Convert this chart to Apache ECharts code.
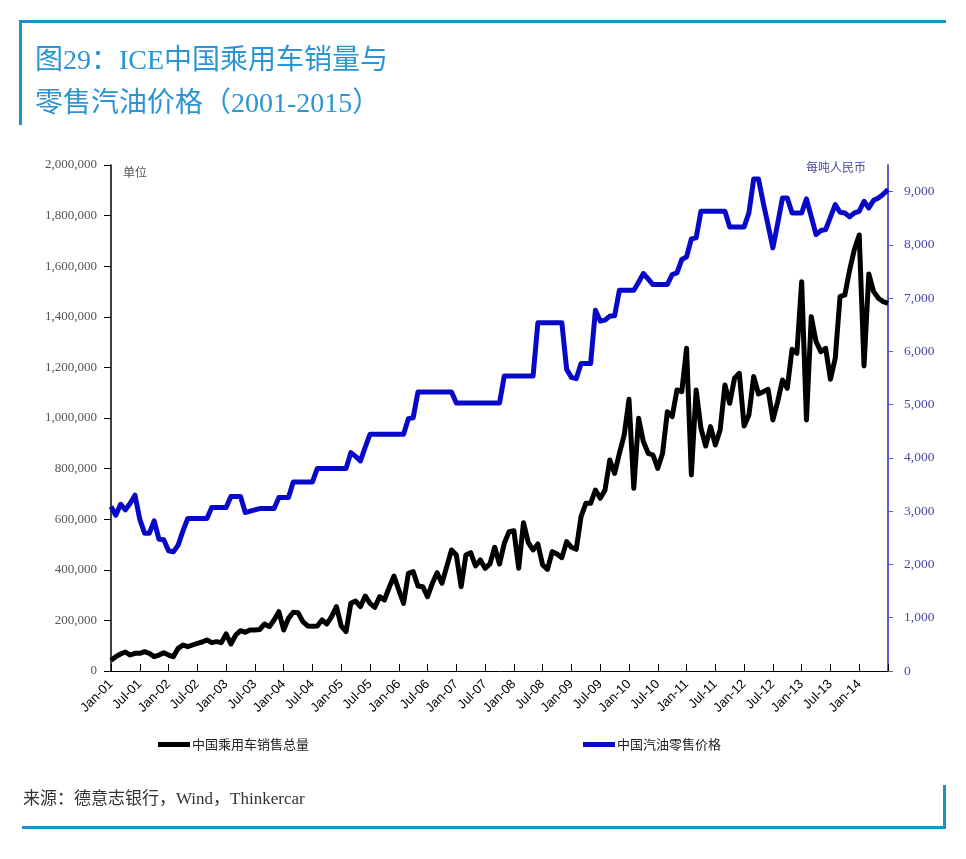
<!DOCTYPE html>
<html>
<head>
<meta charset="utf-8">
<script src="https://cdn.jsdelivr.net/npm/echarts@6/dist/echarts.min.js"></script>
<style>
html,body{margin:0;padding:0;background:#fff;}
#c{width:966px;height:859px;}
</style>
</head>
<body>
<div id="c"></div>
<script>
// ---- data ----
const monthAbbr = ['Jan','Feb','Mar','Apr','May','Jun','Jul','Aug','Sep','Oct','Nov','Dec'];
const monthCount = 163; // Jan-01 .. Jul-14
const categories = [];
for (let i = 0; i < monthCount; i++) {
  const yy = 1 + Math.floor(i / 12);
  categories.push(monthAbbr[i % 12] + '-' + String(yy).padStart(2, '0'));
}

// 中国乘用车销售总量 (units, monthly)
const salesData = [
  42000, 56700, 67200, 75100, 63200, 69800, 69800, 76400, 69800, 56700, 63200, 72500,
  63200, 56700, 89600, 102800, 96200, 102800, 109400, 114600, 122500, 112000, 116000, 112000,
  146300, 106700, 142300, 159400, 152900, 162100, 162100, 164000, 185800, 175200, 201600, 234500,
  162100, 208200, 232000, 230000, 195000, 178000, 177000, 178000, 201600, 185800, 214800, 254300,
  177900, 155500, 267500, 276700, 254300, 296500, 267500, 251700, 293800, 280700, 330000, 375500,
  320200, 267500, 386100, 392700, 336000, 333400, 293800, 346600, 388700, 346600, 412400, 478300,
  458500, 333400, 458500, 467800, 415100, 438800, 405900, 423000, 488900, 423000, 504700, 550800,
  554700, 405900, 586400, 507300, 478300, 502000, 419000, 401900, 471700, 462500, 448000, 511300,
  488900, 481000, 610100, 662800, 662800, 715500, 682600, 715500, 834100, 781400, 860400, 932900,
  1073900, 722100, 998800, 906600, 860400, 853800, 801100, 860400, 1025100, 1005400, 1110800, 1104200,
  1275500, 774800, 1110800, 959300, 889400, 965800, 893400, 952700, 1130600, 1058100, 1156900, 1176700,
  968500, 1012000, 1163500, 1095000, 1104200, 1113400, 992200, 1064700, 1150300, 1117400, 1271500, 1255700,
  1539000, 992200, 1400700, 1301800, 1262300, 1275500, 1153000, 1236000, 1479700, 1486300, 1585200, 1666900,
  1723500, 1205700, 1569300, 1499500, 1473200, 1460000, 1453400
];

// 中国汽油零售价格 (元/吨, monthly)
const priceData = [
  3088, 2925, 3131, 3025, 3150, 3300, 2850, 2588, 2588, 2819, 2475, 2463,
  2256, 2238, 2363, 2631, 2863, 2863, 2863, 2863, 2863, 3069, 3069, 3069,
  3069, 3275, 3275, 3275, 2975, 3000, 3025, 3050, 3050, 3050, 3050, 3256,
  3256, 3256, 3550, 3550, 3550, 3550, 3550, 3800, 3800, 3800, 3800, 3800,
  3800, 3800, 4100, 4030, 3944, 4200, 4444, 4444, 4444, 4444, 4444, 4444,
  4444, 4444, 4738, 4756, 5238, 5238, 5238, 5238, 5238, 5238, 5238, 5238,
  5030, 5030, 5030, 5030, 5030, 5030, 5030, 5030, 5030, 5030, 5538, 5538,
  5538, 5538, 5538, 5538, 5538, 6538, 6538, 6538, 6538, 6538, 6538, 5663,
  5513, 5488, 5775, 5775, 5775, 6775, 6569, 6588, 6663, 6669, 7150, 7150,
  7150, 7150, 7300, 7463, 7360, 7256, 7256, 7256, 7256, 7444, 7475, 7725,
  7775, 8113, 8131, 8631, 8631, 8631, 8631, 8631, 8631, 8338, 8338, 8338,
  8338, 8600, 9238, 9238, 8788, 8370, 7944, 8400, 8881, 8881, 8600, 8600,
  8600, 8863, 8530, 8194, 8269, 8288, 8520, 8756, 8613, 8600, 8525, 8600,
  8631, 8819, 8694, 8838, 8881, 8950, 9038
];

const leftTicks = [0, 200000, 400000, 600000, 800000, 1000000, 1200000, 1400000, 1600000, 1800000, 2000000];
const rightTicks = [0, 1000, 2000, 3000, 4000, 5000, 6000, 7000, 8000, 9000];
const seriesNames = ['中国乘用车销售总量', '中国汽油零售价格'];

// ---- chart ----
const chart = echarts.init(document.getElementById('c'), null, {renderer: 'canvas'});
const accent = '#1e8fcf';
const serifFont = '"Liberation Serif", "Noto Sans CJK SC", serif';
const cjkFont = '"Noto Sans CJK SC", "Liberation Sans", sans-serif';

const option = {
  backgroundColor: '#ffffff',
  animation: false,
  grid: {left: 111, right: 78, top: 165, bottom: 188, containLabel: false},
  xAxis: {
    type: 'category',
    data: categories,
    boundaryGap: false,
    axisLine: {show: true, lineStyle: {color: '#000', width: 1}},
    axisTick: {show: true, inside: true, length: 7, interval: function (i) { return i % 6 === 0; }, lineStyle: {color: '#000'}},
    axisLabel: {
      interval: function (i) { return i % 6 === 0 && i < monthCount - 1; },
      rotate: 45, margin: 11,
      fontFamily: '"Liberation Sans", Arial, sans-serif', fontSize: 13, color: '#000'
    },
    splitLine: {show: false}
  },
  yAxis: [
    {
      type: 'value', min: 0, max: 2000000, interval: 200000, position: 'left',
      axisLine: {show: true, lineStyle: {color: '#000', width: 1.5}},
      axisTick: {show: true, inside: false, length: 7, lineStyle: {color: '#000'}},
      axisLabel: {
        margin: 14, fontFamily: serifFont, fontSize: 13, color: '#555',
        customValues: leftTicks,
        formatter: function (v) { return Number(v).toLocaleString('en-US'); }
      },
      splitLine: {show: false}
    },
    {
      type: 'value', min: 0, max: 9500, interval: 1000, position: 'right',
      axisLine: {show: true, lineStyle: {color: '#5a5ad0', width: 2}},
      axisTick: {show: true, inside: false, length: 5, customValues: rightTicks, lineStyle: {color: '#5a5ad0'}},
      axisLabel: {
        margin: 16, fontFamily: serifFont, fontSize: 13.5, color: '#4848a8',
        customValues: rightTicks,
        formatter: function (v) { return Number(v).toLocaleString('en-US'); }
      },
      splitLine: {show: false}
    }
  ],
  legend: [
    {
      data: [seriesNames[0]], left: 158, top: 738, icon: 'rect', itemWidth: 32, itemHeight: 5,
      padding: 0, textStyle: {fontFamily: cjkFont, fontSize: 13, color: '#222', padding: [0, 0, 0, -3]}
    },
    {
      data: [seriesNames[1]], left: 583, top: 738, icon: 'rect', itemWidth: 32, itemHeight: 5,
      padding: 0, textStyle: {fontFamily: cjkFont, fontSize: 13, color: '#222', padding: [0, 0, 0, -3]}
    }
  ],
  series: [
    {
      name: seriesNames[1], type: 'line', yAxisIndex: 1, data: priceData,
      symbol: 'none', smooth: false,
      lineStyle: {color: '#0808c8', width: 5, join: 'round', cap: 'butt'},
      itemStyle: {color: '#0808c8'}
    },
    {
      name: seriesNames[0], type: 'line', yAxisIndex: 0, data: salesData,
      symbol: 'none', smooth: false,
      lineStyle: {color: '#000000', width: 5, join: 'round', cap: 'butt'},
      itemStyle: {color: '#000000'}
    }
  ],
  graphic: [
    {type: 'rect', shape: {x: 19, y: 20, width: 927, height: 3}, style: {fill: accent}, silent: true},
    {type: 'rect', shape: {x: 19, y: 20, width: 3, height: 105}, style: {fill: accent}, silent: true},
    {type: 'rect', shape: {x: 22, y: 826, width: 924, height: 3}, style: {fill: accent}, silent: true},
    {type: 'rect', shape: {x: 943, y: 785, width: 3, height: 44}, style: {fill: accent}, silent: true},
    {type: 'text', x: 35, y: 62, silent: true,
     style: {text: '图29：ICE中国乘用车销量与', font: '28px ' + serifFont, fill: '#2a95d3', textVerticalAlign: 'middle'}},
    {type: 'text', x: 35, y: 105, silent: true,
     style: {text: '零售汽油价格（2001-2015）', font: '28px ' + serifFont, fill: '#2a95d3', textVerticalAlign: 'middle'}},
    {type: 'text', x: 23, y: 800, silent: true,
     style: {text: '来源：德意志银行，Wind，Thinkercar', font: '17px ' + serifFont, fill: '#333', textVerticalAlign: 'middle'}},
    {type: 'text', x: 123, y: 172, silent: true,
     style: {text: '单位', font: '12px ' + cjkFont, fill: '#555', textVerticalAlign: 'middle'}},
    {type: 'text', x: 866, y: 167, silent: true,
     style: {text: '每吨人民币', font: '12px ' + cjkFont, fill: '#4848a8', textAlign: 'right', textVerticalAlign: 'middle'}}
  ]
};
chart.setOption(option);
</script>
</body>
</html>
